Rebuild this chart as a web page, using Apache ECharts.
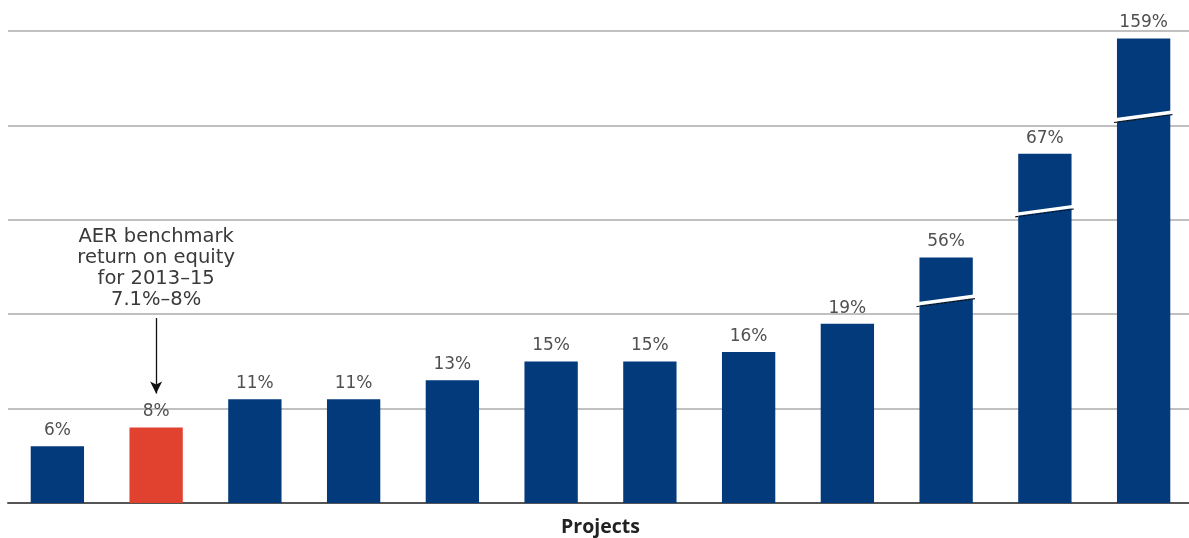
<!DOCTYPE html>
<html>
<head>
<meta charset="utf-8">
<script src="https://cdn.jsdelivr.net/npm/echarts@6/dist/echarts.min.js"></script>
<style>
  html, body { margin: 0; padding: 0; background: #fff; }
  #chart { width: 1189px; height: 538px; }
</style>
</head>
<body>
<div id="chart"></div>
<script>
// Return on equity by project (%)
const projects = ['P1', 'P2', 'P3', 'P4', 'P5', 'P6', 'P7', 'P8', 'P9', 'P10', 'P11', 'P12'];
const returns = [6, 8, 11, 11, 13, 15, 15, 16, 19, 56, 67, 159];
// Index of the project that sits at the AER benchmark
const benchmarkIndex = 1;
// Broken bars: value range hidden inside the bar, [from, to]
const breakFrom = [null, null, null, null, null, null, null, null, null, 21.5, 31, 41];
const breakTo   = [null, null, null, null, null, null, null, null, null, 51.5, 61, 150.8];
const benchmarkNote = ['AER benchmark', 'return on equity', 'for 2013–15', '7.1%–8%'];
const axisTitle = 'Projects';

const NAVY = '#023a7b';
const RED = '#e1422f';
const FONT = 'DejaVu Sans';

// Height drawn for each bar once its hidden range is removed
const drawn = returns.map((v, i) =>
  breakFrom[i] == null ? v : v - (breakTo[i] - breakFrom[i]));

const barData = drawn.map((v, i) => ({
  value: v,
  itemStyle: { color: i === benchmarkIndex ? RED : NAVY }
}));

const breakData = [];
breakFrom.forEach((b, i) => { if (b != null) breakData.push([i, b]); });

const chart = echarts.init(document.getElementById('chart'), null, { renderer: 'canvas' });

chart.setOption({
  animation: false,
  backgroundColor: '#fff',
  grid: { left: 8, top: 31, width: 1185, height: 472, outerBoundsMode: 'none', containLabel: false },
  xAxis: {
    type: 'category',
    data: projects,
    axisLine: { lineStyle: { color: '#555', width: 2 } },
    axisTick: { show: false },
    axisLabel: { show: false },
    name: axisTitle,
    nameLocation: 'middle',
    nameGap: 14,
    nameTextStyle: {
      fontFamily: 'Open Sans', fontWeight: 'bold', fontSize: 19.5, color: '#222'
    }
  },
  yAxis: {
    type: 'value',
    min: 0, max: 50, interval: 10,
    axisLine: { show: false },
    axisTick: { show: false },
    axisLabel: { show: false },
    splitLine: { lineStyle: { color: '#ababab', width: 1.5 } }
  },
  series: [
    {
      type: 'bar',
      data: barData,
      barWidth: '54%',
      label: {
        show: true,
        position: 'top',
        distance: 7,
        fontFamily: FONT,
        fontSize: 17,
        color: '#505050',
        formatter: p => returns[p.dataIndex] + '%'
      },
      markPoint: {
        symbol: 'circle',
        symbolSize: 0,
        data: [{
          coord: [benchmarkIndex, 24.9],
          label: {
            show: true,
            position: 'inside',
            formatter: benchmarkNote.join('\n'),
            fontFamily: FONT,
            fontSize: 19.5,
            lineHeight: 21,
            align: 'center',
            color: '#3a3a3a'
          }
        }]
      },
      markLine: {
        silent: true,
        symbol: ['none', 'arrow'],
        symbolSize: [9, 12],
        lineStyle: { color: '#111', width: 1.3, type: 'solid' },
        label: { show: false },
        data: [[
          { coord: [benchmarkIndex, 19.6] },
          { coord: [benchmarkIndex, 11.6] }
        ]]
      }
    },
    {
      // Break marks across the broken bars
      type: 'custom',
      data: breakData,
      z: 5,
      renderItem: (params, api) => {
        const c = api.coord([api.value(0), api.value(1)]);
        const half = api.size([1, 0])[0] * 0.3;
        const rise = 4;
        const x1 = c[0] - half, x2 = c[0] + half;
        return {
          type: 'group',
          children: [
            {
              type: 'line',
              shape: { x1: x1, y1: c[1] + rise + 2.5, x2: x2, y2: c[1] - rise + 2.5 },
              style: { stroke: '#111', lineWidth: 1.2, lineDash: [3, 1] }
            },
            {
              type: 'line',
              shape: { x1: x1, y1: c[1] + rise, x2: x2, y2: c[1] - rise },
              style: { stroke: '#fff', lineWidth: 3.5 }
            }
          ]
        };
      }
    }
  ]
});
</script>
</body>
</html>
